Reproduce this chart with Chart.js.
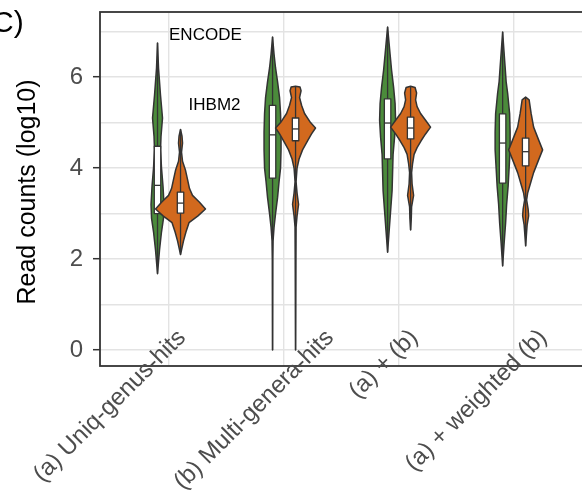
<!DOCTYPE html>
<html>
<head>
<meta charset="utf-8">
<script src="https://cdn.jsdelivr.net/npm/chart.js@4.4.1/dist/chart.umd.min.js"></script>
<style>
  html, body { margin: 0; padding: 0; background: #fff; }
</style>
</head>
<body>
<canvas id="chart" width="582" height="492"></canvas>
<script>
// Violin + box plot of read counts per assignment strategy, ENCODE vs IHBM2.

const CATEGORIES = ['(a) Uniq-genus-hits', '(b) Multi-genera-hits', '(a) + (b)', '(a) + weighted (b)'];
const GROUPS = ['ENCODE', 'IHBM2'];
const Y_TICKS = [0, 2, 4, 6];
const Y_MINOR_TICKS = [1, 3, 5, 7];

// Violin outlines per category, top to bottom: [log10 read count, relative density]
const ENCODE_DENSITY = [
  [[6.75, 0], [6.2, .04], [5.6, .12], [5.1, .2], [4.7, .14], [4.4, .12], [4.0, .16], [3.6, .22], [3.2, .26], [2.9, .24], [2.6, .16], [2.2, .08], [1.68, 0]],
  [[6.88, 0], [6.5, .06], [6.2, .12], [5.9, .2], [5.55, .28], [5.2, .32], [4.8, .34], [4.4, .34], [4.0, .32], [3.7, .26], [3.35, .2], [3.0, .12], [2.7, .06], [2.4, .02], [2.0, .008], [0, 0]],
  [[7.1, 0], [6.5, .1], [6.15, .16], [5.78, .24], [5.42, .3], [5.05, .32], [4.68, .28], [4.3, .22], [3.9, .2], [3.5, .18], [3.05, .12], [2.6, .06], [2.15, 0]],
  [[6.99, 0], [6.6, .05], [6.22, .1], [5.9, .14], [5.65, .2], [5.2, .28], [4.8, .3], [4.4, .3], [4.0, .26], [3.6, .22], [3.2, .16], [2.8, .12], [2.35, .06], [1.85, 0]]
];
const IHBM2_DENSITY = [
  [[4.85, 0], [4.7, .06], [4.55, .08], [4.35, .04], [4.15, .08], [3.95, .2], [3.75, .28], [3.55, .36], [3.4, .48], [3.25, .76], [3.1, 1], [2.95, .7], [2.8, .34], [2.6, .22], [2.4, .12], [2.1, 0]],
  [[5.8, 0], [5.78, .18], [5.7, .22], [5.55, .16], [5.38, .24], [5.2, .36], [5.0, .6], [4.88, .8], [4.75, .64], [4.6, .48], [4.4, .28], [4.2, .14], [4.0, .06], [3.7, .02], [3.45, .06], [3.2, .12], [2.95, .06], [2.7, .02], [2.0, .012], [0, 0]],
  [[5.8, 0], [5.77, .18], [5.65, .24], [5.5, .2], [5.35, .26], [5.2, .4], [5.05, .6], [4.9, .8], [4.75, .6], [4.6, .42], [4.45, .26], [4.3, .14], [4.1, .08], [3.9, .04], [3.65, .06], [3.4, .12], [3.15, .04], [2.9, .028], [2.64, 0]],
  [[5.56, 0], [5.5, .14], [5.2, .22], [4.9, .32], [4.62, .52], [4.4, .68], [4.18, .52], [3.9, .32], [3.6, .16], [3.45, .08], [3.3, .04], [3.1, .1], [2.95, .12], [2.75, .06], [2.6, .04], [2.29, 0]]
];

// Box stats per category
const ENCODE_Q1 = [3.0, 3.78, 4.2, 3.67];
const ENCODE_MEDIAN = [3.62, 4.73, 4.99, 4.55];
const ENCODE_Q3 = [4.48, 5.38, 5.52, 5.19];
const ENCODE_MIN = [1.68, 0, 2.15, 1.85];
const ENCODE_MAX = [6.75, 6.88, 7.1, 6.99];
const IHBM2_Q1 = [3.01, 4.6, 4.64, 4.05];
const IHBM2_MEDIAN = [3.23, 4.86, 4.88, 4.36];
const IHBM2_Q3 = [3.47, 5.1, 5.12, 4.66];
const IHBM2_MIN = [2.1, 0, 2.64, 2.29];
const IHBM2_MAX = [4.85, 5.8, 5.8, 5.56];

const SERIES = [
  {density: ENCODE_DENSITY, q1: ENCODE_Q1, med: ENCODE_MEDIAN, q3: ENCODE_Q3, lo: ENCODE_MIN, hi: ENCODE_MAX,
   color: '#4b8b3b', dodge: -0.1},
  {density: IHBM2_DENSITY, q1: IHBM2_Q1, med: IHBM2_MEDIAN, q3: IHBM2_Q3, lo: IHBM2_MIN, hi: IHBM2_MAX,
   color: '#d2691e', dodge: 0.1}
];

const FONT = '"Liberation Sans", Arial, sans-serif';
const INK = '#333333';
const GRID = '#e3e3e3';
const VIOLIN_HALF = 0.217; // x units at density 1
const BOX_HALF = 0.028;
// where each rotated label ends, relative to its tick at the panel bottom (px)
const LABEL_END_DX = [13, 46, 15, 29];
const LABEL_END_DY = -32;

function drawViolin(ctx, x, y, center, profile, color) {
  ctx.beginPath();
  profile.forEach(([v, d], i) => {
    const px = x.getPixelForValue(center + d * VIOLIN_HALF), py = y.getPixelForValue(v);
    i ? ctx.lineTo(px, py) : ctx.moveTo(px, py);
  });
  for (let i = profile.length - 1; i >= 0; i--) {
    const [v, d] = profile[i];
    ctx.lineTo(x.getPixelForValue(center - d * VIOLIN_HALF), y.getPixelForValue(v));
  }
  ctx.closePath();
  ctx.fillStyle = color;
  ctx.fill();
  ctx.lineWidth = 1.5;
  ctx.lineJoin = 'round';
  ctx.strokeStyle = INK;
  ctx.stroke();
}

function drawBox(ctx, x, y, center, s, i) {
  const cx = x.getPixelForValue(center);
  const l = x.getPixelForValue(center - BOX_HALF), r = x.getPixelForValue(center + BOX_HALF);
  ctx.strokeStyle = INK;
  ctx.lineWidth = 1.3;
  ctx.beginPath();
  ctx.moveTo(cx, y.getPixelForValue(s.lo[i]));
  ctx.lineTo(cx, y.getPixelForValue(s.hi[i]));
  ctx.stroke();
  const top = y.getPixelForValue(s.q3[i]), bot = y.getPixelForValue(s.q1[i]);
  ctx.fillStyle = '#fff';
  ctx.fillRect(l, top, r - l, bot - top);
  ctx.strokeRect(l, top, r - l, bot - top);
  const m = y.getPixelForValue(s.med[i]);
  ctx.beginPath();
  ctx.moveTo(l, m);
  ctx.lineTo(r, m);
  ctx.stroke();
}

const violinPlugin = {
  id: 'violins',
  beforeDatasetsDraw(chart) {
    const {ctx, scales: {x, y}} = chart;
    ctx.save();
    CATEGORIES.forEach((_, i) => {
      SERIES.forEach(s => {
        drawViolin(ctx, x, y, i + 1 + s.dodge, s.density[i], s.color);
        drawBox(ctx, x, y, i + 1 + s.dodge, s, i);
      });
    });
    ctx.restore();
  },
  afterDraw(chart) {
    const {ctx, chartArea: a, scales: {x, y}} = chart;
    ctx.save();
    // panel border
    ctx.strokeStyle = INK;
    ctx.lineWidth = 1.8;
    ctx.strokeRect(a.left, a.top, a.right - a.left + 5, a.bottom - a.top);

    // group annotations
    ctx.fillStyle = '#000';
    ctx.font = '17px ' + FONT;
    ctx.textAlign = 'left';
    ctx.textBaseline = 'middle';
    ctx.fillText(GROUPS[0], x.getPixelForValue(1.0), y.getPixelForValue(6.92));
    ctx.fillText(GROUPS[1], x.getPixelForValue(1.17), y.getPixelForValue(5.38));

    // rotated category labels
    ctx.fillStyle = '#4d4d4d';
    ctx.font = '24px ' + FONT;
    ctx.textAlign = 'right';
    CATEGORIES.forEach((label, i) => {
      ctx.save();
      ctx.translate(x.getPixelForValue(i + 1) + LABEL_END_DX[i], a.bottom + LABEL_END_DY);
      ctx.rotate(-Math.PI / 4);
      ctx.fillText(label, 0, 0);
      ctx.restore();
    });

    // y title
    ctx.fillStyle = '#000';
    ctx.font = '25px ' + FONT;
    ctx.textAlign = 'center';
    ctx.save();
    ctx.translate(28, (a.top + a.bottom) / 2 + 3);
    ctx.rotate(-Math.PI / 2);
    ctx.fillText('Read counts (log10)', 0, 0);
    ctx.restore();

    // panel tag
    ctx.font = '30px ' + FONT;
    ctx.textAlign = 'left';
    ctx.textBaseline = 'alphabetic';
    ctx.fillText('C)', -8, 32);
    ctx.restore();
  }
};

new Chart(document.getElementById('chart'), {
  type: 'scatter',
  data: {datasets: []},
  options: {
    responsive: false,
    animation: false,
    devicePixelRatio: 1,
    layout: {padding: {top: 12, left: 0, right: 0, bottom: 0}},
    plugins: {legend: {display: false}, tooltip: {enabled: false}},
    scales: {
      x: {
        type: 'linear',
        min: 0.4,
        max: 4.59,
        afterBuildTicks: axis => { axis.ticks = CATEGORIES.map((_, i) => ({value: i + 1})); },
        ticks: {display: false},
        grid: {color: GRID, lineWidth: 1.4, drawTicks: false},
        border: {display: false},
        afterFit: axis => { axis.height = 126; axis.paddingLeft = 0; axis.paddingRight = 0; }
      },
      y: {
        type: 'linear',
        min: -0.35,
        max: 7.43,
        afterBuildTicks: axis => {
          axis.ticks = Y_TICKS.concat(Y_MINOR_TICKS).sort((p, q) => p - q).map(v => ({value: v}));
        },
        ticks: {
          color: '#4d4d4d',
          font: {family: FONT, size: 24},
          padding: 10,
          callback: v => Y_TICKS.includes(v) ? String(v) : ''
        },
        grid: {
          color: GRID,
          lineWidth: 1.4,
          tickLength: 7,
          tickColor: c => Y_TICKS.includes(c.tick.value) ? INK : 'rgba(0,0,0,0)',
          tickWidth: 1.5
        },
        border: {display: false},
        afterFit: axis => { axis.width = 100; axis.paddingTop = 0; axis.paddingBottom = 0; }
      }
    }
  },
  plugins: [violinPlugin]
});
</script>
</body>
</html>
